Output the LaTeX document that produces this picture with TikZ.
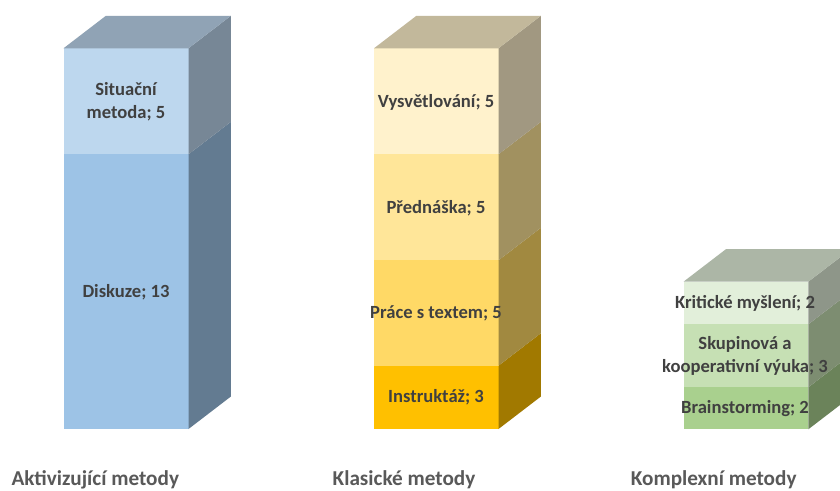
\documentclass[tikz,border=0pt]{standalone}
\usepackage{fontspec}
\setmainfont{Carlito}
\definecolor{lA}{HTML}{BDD7EE}
\definecolor{lB}{HTML}{9DC3E6}
\definecolor{mA}{HTML}{FFF2CC}
\definecolor{mB}{HTML}{FFE699}
\definecolor{mC}{HTML}{FFD966}
\definecolor{mD}{HTML}{FFC000}
\definecolor{rA}{HTML}{E2EFDA}
\definecolor{rB}{HTML}{C6E0B4}
\definecolor{rC}{HTML}{A9D08E}
\definecolor{lbl}{HTML}{404040}
\definecolor{cat}{HTML}{595959}
% front + side face of one segment: x0, x1, ytop, ybot, colour
\newcommand{\mkseg}[5]{%
  \fill[#5] (#1,#3) rectangle (#2,#4);
  \fill[#5!63!black] (#2,#3) -- (#2+42.4,#3-32.5) -- (#2+42.4,#4-32.5) -- (#2,#4) -- cycle;
}
% top face: x0, x1, ytop, colour
\newcommand{\mktop}[4]{%
  \fill[#4!76!black] (#1,#3) -- (#1+42.4,#3-32.5) -- (#2+42.4,#3-32.5) -- (#2,#3) -- cycle;
}
\tikzset{
  seglabel/.style={font=\fontsize{18.6}{23.3}\selectfont\bfseries, text=lbl, align=center, inner sep=0pt},
  catlabel/.style={font=\fontsize{21.2}{25}\selectfont\bfseries, text=cat, inner sep=0pt, anchor=base}
}
\begin{document}
\begin{tikzpicture}[x=1pt,y=-1pt]
\useasboundingbox (0,0) rectangle (840,490);
\clip (0,0) rectangle (840,490);
\fill[white] (0,0) rectangle (840,490);
% Aktivizujici metody
\mkseg{63.5}{188.5}{154.3}{429}{lB}
\mkseg{63.5}{188.5}{48.3}{154.3}{lA}
\mktop{63.5}{188.5}{48.3}{lA}
% Klasicke metody
\mkseg{374}{498.5}{365.7}{429}{mD}
\mkseg{374}{498.5}{260.3}{365.7}{mC}
\mkseg{374}{498.5}{154.3}{260.3}{mB}
\mkseg{374}{498.5}{48.3}{154.3}{mA}
\mktop{374}{498.5}{48.3}{mA}
% Komplexni metody
\mkseg{683.5}{808.3}{387.3}{429.3}{rC}
\mkseg{683.5}{808.3}{324.3}{387.3}{rB}
\mkseg{683.5}{808.3}{281.7}{324.3}{rA}
\mktop{683.5}{808.3}{281.7}{rA}
% segment labels
\node[seglabel] (sit) at (126,102) {Situační\\metoda; 5};
\node[seglabel] (dis) at (126,292) {Diskuze; 13};
\node[seglabel] (vys) at (436,102.5) {Vysvětlování; 5};
\node[seglabel] (pre) at (436,208) {Přednáška; 5};
\node[seglabel] (pra) at (436,313.5) {Práce s textem; 5};
\node[seglabel] (ins) at (436,397.5) {Instruktáž; 3};
\node[seglabel] (kri) at (745,303.5) {Kritické myšlení; 2};
\node[seglabel] (sku) at (745,356) {Skupinová a\\kooperativní výuka; 3};
\node[seglabel] (bra) at (745,408.3) {Brainstorming; 2};
% category labels
\node[catlabel] (c1) at (95.3,485.7) {Aktivizující metody};
\node[catlabel] (c2) at (404,485.7) {Klasické metody};
\node[catlabel] (c3) at (713.7,485.7) {Komplexní metody};
\end{tikzpicture}
\end{document}
